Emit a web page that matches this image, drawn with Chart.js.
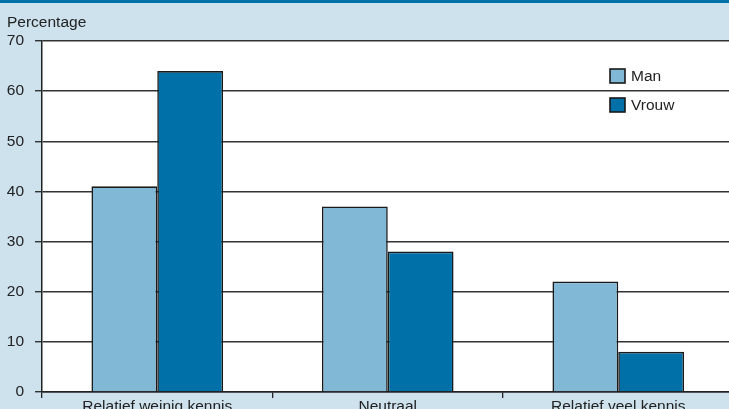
<!DOCTYPE html>
<html>
<head>
<meta charset="utf-8">
<script src="https://cdn.jsdelivr.net/npm/chart.js@4/dist/chart.umd.min.js"></script>
<style>
  html, body { margin: 0; padding: 0; background: #cde2ed; overflow: hidden; width: 729px; height: 409px; }
  #band { height: 3px; background: #0070a8; }
  #wrap { width: 745px; height: 430px; position: relative; }
</style>
</head>
<body>
<div id="band"></div>
<div id="wrap"><canvas id="c" width="745" height="430" style="width:745px;height:430px"></canvas></div>
<script>
const categories = ["Relatief weinig kennis", "Neutraal", "Relatief veel kennis"];
const seriesNames = ["Man", "Vrouw"];
const manValues = [41, 37, 22];
const vrouwValues = [64, 28, 8];
const yTicks = [0, 10, 20, 30, 40, 50, 60, 70];
const axisTitle = "Percentage";

const FONT = "'Liberation Sans', Arial, Helvetica, sans-serif";
const FS = 15.5;
const colors = ["#80b8d6", "#0071a8"];

const legendPlugin = {
  id: 'insideLegend',
  afterDatasetsDraw(chart) {
    const ctx = chart.ctx;
    const area = chart.chartArea;
    const x0 = area.right - 123.5;
    const tops = [area.top + 28, area.top + 57];
    ctx.save();
    chart.data.datasets.forEach((ds, i) => {
      const y = tops[i];
      ctx.fillStyle = ds.backgroundColor;
      ctx.fillRect(x0, y, 15, 14);
      ctx.lineWidth = 1.6;
      ctx.strokeStyle = '#1a1a1a';
      ctx.strokeRect(x0, y, 15, 14);
      ctx.fillStyle = '#222';
      ctx.font = FS + "px " + FONT;
      ctx.textBaseline = 'middle';
      ctx.textAlign = 'left';
      ctx.fillText(ds.label, x0 + 21, y + 7.5);
    });
    ctx.restore();
  }
};

const areaBg = {
  id: 'areaBg',
  beforeDraw(chart) {
    const {ctx, chartArea: a} = chart;
    ctx.save();
    ctx.fillStyle = '#ffffff';
    ctx.fillRect(a.left, a.top, a.right - a.left, a.bottom - a.top);
    ctx.restore();
  }
};

new Chart(document.getElementById('c'), {
  type: 'bar',
  data: {
    labels: categories,
    datasets: [
      { label: seriesNames[0], data: manValues, backgroundColor: colors[0], borderColor: '#1a1a1a', borderWidth: 1.6 },
      { label: seriesNames[1], data: vrouwValues, backgroundColor: colors[1], borderColor: '#1a1a1a', borderWidth: 1.6 }
    ]
  },
  options: {
    responsive: false,
    animation: false,
    devicePixelRatio: 1,
    layout: { padding: { left: 7, right: 11.5, top: 0, bottom: 16.5 } },
    datasets: { bar: { barPercentage: 1, categoryPercentage: 0.571 } },
    plugins: {
      legend: { display: false },
      tooltip: { enabled: false },
      title: {
        display: true, text: axisTitle, align: 'start', color: '#222',
        font: { family: FONT, size: FS, weight: 'normal' },
        padding: { top: 10, bottom: 9.4 }
      }
    },
    scales: {
      x: {
        offset: true,
        afterFit(scale) { scale.paddingLeft = 0; scale.paddingRight = 0; },
        grid: { display: true, drawOnChartArea: false, drawTicks: true, tickLength: 6, color: '#222', lineWidth: 1.3, offset: true },
        border: { display: true, color: '#222', width: 1.5 },
        ticks: { color: '#222', padding: 0, font: { family: FONT, size: FS } }
      },
      y: {
        min: yTicks[0], max: yTicks[yTicks.length - 1],
        afterBuildTicks(scale) { scale.ticks = yTicks.map(v => ({ value: v })); },
        afterFit(scale) { scale.width = 35; },
        grid: { color: '#333', lineWidth: 1.4, tickLength: 7, drawTicks: true },
        border: { display: true, color: '#222', width: 1.5 },
        ticks: { color: '#222', padding: 11, font: { family: FONT, size: FS } }
      }
    }
  },
  plugins: [areaBg, legendPlugin]
});
</script>
</body>
</html>
